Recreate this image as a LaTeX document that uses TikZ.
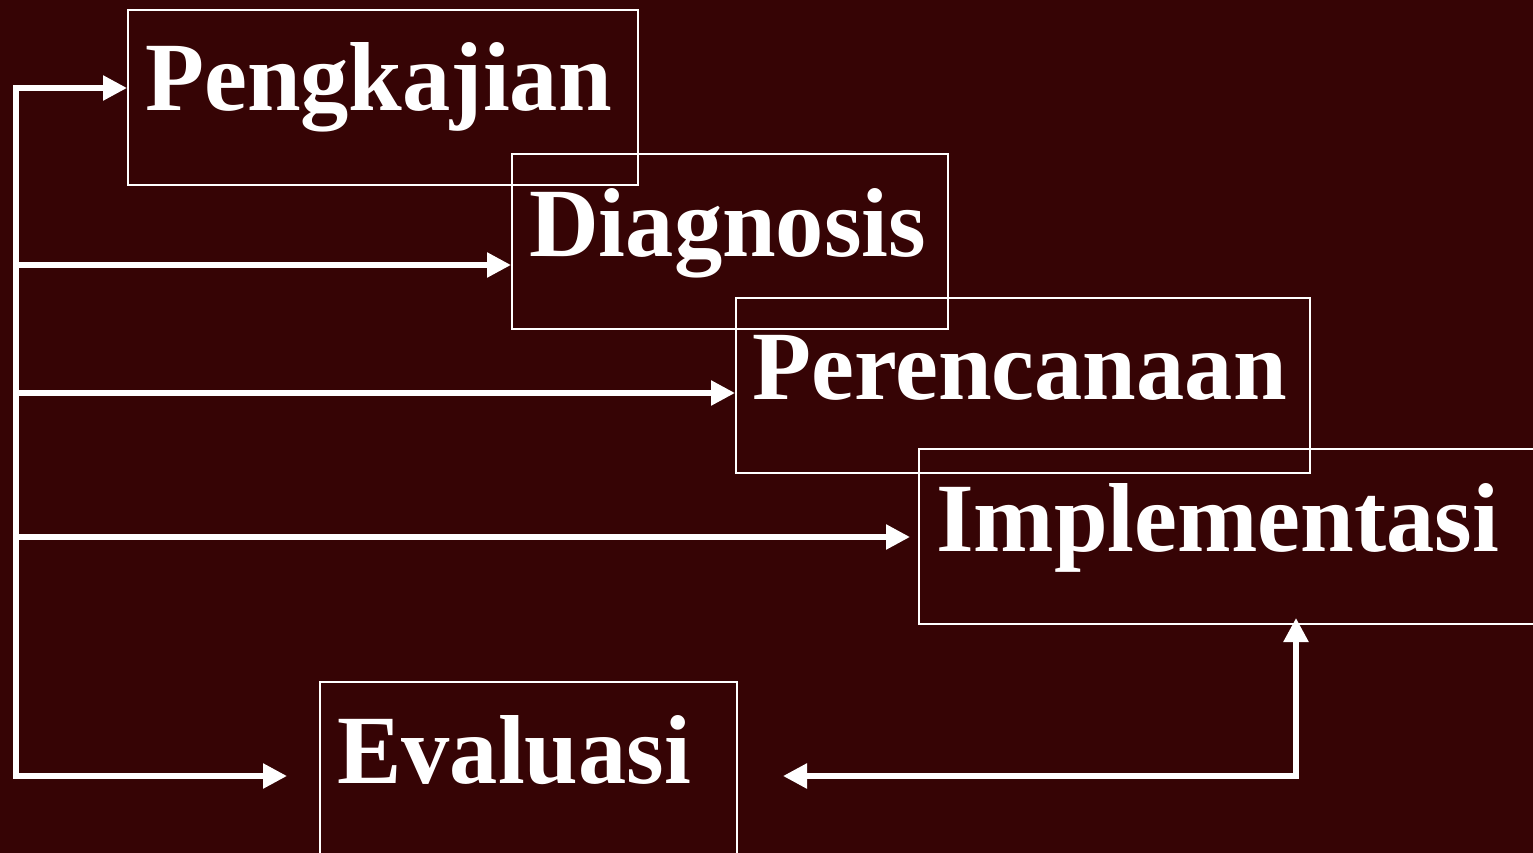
\documentclass[tikz,border=0pt]{standalone}
\usepackage{fontspec}
\newfontfamily\lblfont[FakeStretch=0.985]{Liberation Serif}
\usetikzlibrary{arrows.meta}
\definecolor{bg}{RGB}{54,4,5}
\tikzset{
  stagebox/.style={draw=white, line width=2.2pt, inner sep=0pt, anchor=north west, minimum height=175pt},
  stagetext/.style={text=white, inner sep=0pt, anchor=base west, font=\lblfont\bfseries\fontsize{98}{110}\selectfont},
  conn/.style={draw=white, line width=5.5pt, line cap=rect, line join=miter},
  tip/.style={-{Triangle[length=24pt,width=24pt]}},
  tips/.style={{Triangle[length=24pt,width=24pt]}-{Triangle[length=24pt,width=24pt]}}
}
\begin{document}
\begin{tikzpicture}[x=1pt,y=-1pt]
\fill[bg] (0,0) rectangle (1533,853);
\useasboundingbox (0,0) rectangle (1533,853);
\clip (0,0) rectangle (1533,853);
% boxes
\node[stagebox, minimum width=510pt] (peng) at (127,9) {};
\node[stagebox, minimum width=436pt] (diag) at (511,153) {};
\node[stagebox, minimum width=574pt] (renc) at (735,297) {};
\node[stagebox, minimum width=640pt] (impl) at (918,448) {};
\node[stagebox, minimum width=417pt, minimum height=190pt] (eval) at (319,681) {};
% texts
\node[stagetext] (tpeng) at (145,111) {Pengkajian};
\node[stagetext] (tdiag) at (529,256) {Diagnosis};
\node[stagetext] (trenc) at (752,399) {Perencanaan};
\node[stagetext] (timpl) at (936,551) {Implementasi};
\node[stagetext] (teval) at (337,783) {Evaluasi};
% spine coordinates
\coordinate (s1) at (16,88);
\coordinate (s2) at (16,265);
\coordinate (s3) at (16,393);
\coordinate (s4) at (16,537);
\coordinate (s5) at (16,776);
\coordinate (e4) at (910,537);
\coordinate (e5) at (287,776);
\coordinate (rl) at (783,776);
\coordinate (ru) at (1296,618);
% connectors
\draw[conn] (s1) -- (s5);
\draw[conn, tip] (s1) -- (s1 -| peng.west);
\draw[conn, tip] (s2) -- (s2 -| diag.west);
\draw[conn, tip] (s3) -- (s3 -| renc.west);
\draw[conn, tip] (s4) -- (e4);
\draw[conn, tip] (s5) -- (e5);
\draw[conn, tips] (rl) -| (ru);
\end{tikzpicture}
\end{document}
